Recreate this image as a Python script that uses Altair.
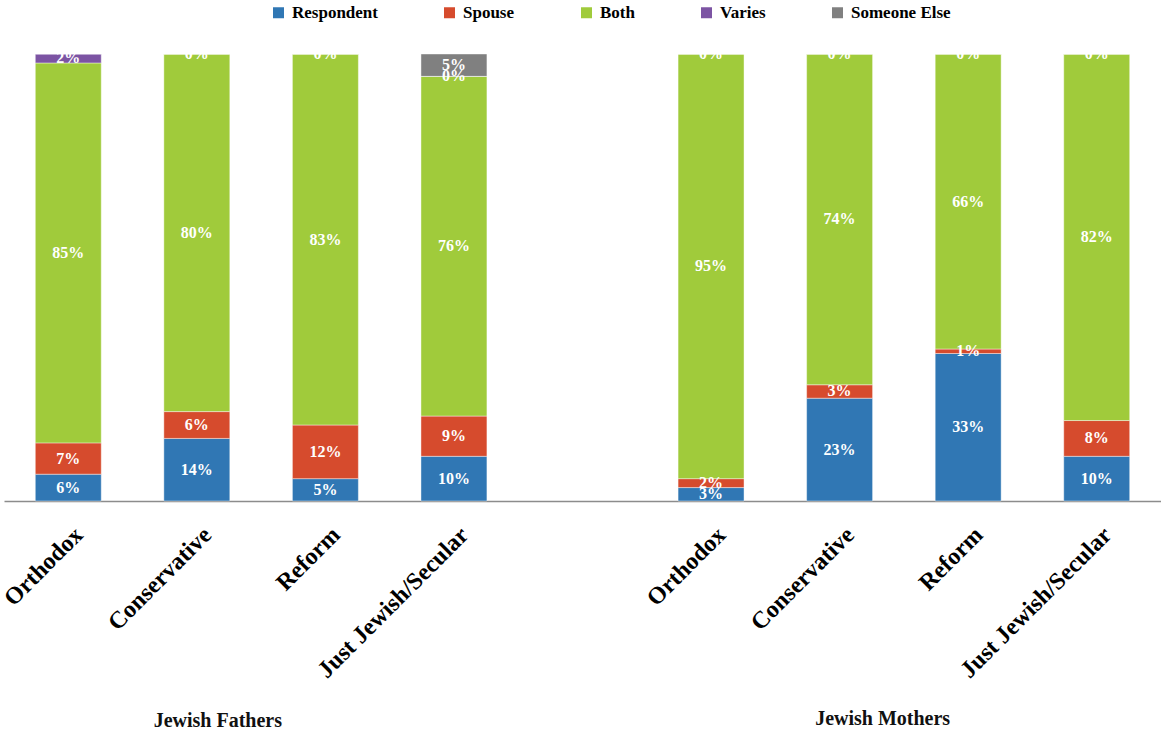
import altair as alt
import pandas as pd

groups = ["Jewish Fathers"] * 4 + ["Jewish Mothers"] * 4
denominations = ["Orthodox", "Conservative", "Reform", "Just Jewish/Secular"] * 2
respondent = [6, 14, 5, 10, 3, 23, 33, 10]
spouse = [7, 6, 12, 9, 2, 3, 1, 8]
both = [85, 80, 83, 76, 95, 74, 66, 82]
varies = [2, 0, 0, 0, 0, 0, 0, 0]
someone_else = [0, 0, 0, 5, 0, 0, 0, 0]

series_names = ["Respondent", "Spouse", "Both", "Varies", "Someone Else"]
series_values = [respondent, spouse, both, varies, someone_else]
series_colors = ["#3077B4", "#D64B2D", "#A0CB3B", "#7C54A3", "#808080"]

keys = [g + "|" + d for g, d in zip(groups, denominations)]
domain = keys[:4] + ["gap"] + keys[4:]

rows = []
for si, (name, vals) in enumerate(zip(series_names, series_values)):
    for k, g, d, v in zip(keys, groups, denominations, vals):
        show = not (name == "Someone Else" and v == 0)
        rows.append({"key": k, "group": g, "denomination": d, "series": name,
                     "order": si, "value": v, "label": f"{v}%" if show else ""})
df = pd.DataFrame(rows)

font = "Liberation Serif"
x_scale = alt.Scale(domain=domain, paddingInner=0.487, paddingOuter=0.2435)
y_scale = alt.Scale(domain=[0, 100])

x_axis = alt.Axis(title=None, labelAngle=315, labelAlign="right", labelBaseline="middle",
                  labelExpr="datum.value == 'gap' ? '' : split(datum.value, '|')[1]",
                  labelFont=font, labelFontWeight="bold", labelFontSize=24,
                  labelColor="#000000", labelOffset=11, labelPadding=30, labelLimit=0,
                  ticks=False, tickSize=0, domainColor="#8C8C8C", domainWidth=1.5,
                  grid=False)

base = alt.Chart(df).transform_stack(
    stack="value", as_=["y0", "y1"], groupby=["key"], sort=[alt.SortField("order", order="ascending")]
).transform_calculate(mid="(datum.y0 + datum.y1) / 2")

bars = base.mark_bar(stroke="white", strokeWidth=0.7, strokeOpacity=0.6).encode(
    x=alt.X("key:N", scale=x_scale, axis=x_axis),
    y=alt.Y("y0:Q", scale=y_scale, axis=None),
    y2="y1:Q",
    color=alt.Color("series:N", scale=alt.Scale(domain=series_names, range=series_colors),
                    legend=alt.Legend(title=None, orient="none", legendX=266, legendY=-50,
                                      direction="horizontal", symbolType="square", symbolSize=121,
                                      symbolStrokeWidth=0, labelFont=font, labelFontWeight="bold",
                                      labelFontSize=17, labelColor="#000000", labelOffset=5,
                                      columnPadding=63)),
)

labels = base.mark_text(font=font, fontWeight="bold", fontSize=16, color="white",
                        baseline="middle").encode(
    x=alt.X("key:N", scale=x_scale, axis=x_axis),
    y=alt.Y("mid:Q", scale=y_scale, axis=None),
    text="label:N",
)

group_df = pd.DataFrame({"key": [keys[1], keys[5]], "text": ["Jewish Fathers", "Jewish Mothers"]})
gl_f = alt.Chart(group_df.iloc[[0]]).mark_text(font=font, fontWeight="bold", fontSize=20,
                                              color="#111111", dx=21, baseline="middle").encode(
    x=alt.X("key:N", scale=x_scale, axis=x_axis), y=alt.value(667), text="text:N")
gl_m = alt.Chart(group_df.iloc[[1]]).mark_text(font=font, fontWeight="bold", fontSize=20,
                                              color="#111111", dx=43, baseline="middle").encode(
    x=alt.X("key:N", scale=x_scale, axis=x_axis), y=alt.value(665), text="text:N")

chart = alt.layer(bars, labels, gl_f, gl_m).properties(
    width=1157, height=447,
    autosize=alt.AutoSizeParams(type="none"),
    padding={"left": 4, "top": 54, "right": 0, "bottom": 231},
).configure(
    background="white", font=font
).configure_view(
    strokeWidth=0, stroke="transparent"
)

chart.save("out.html", embed_options={"renderer": "svg", "actions": False})
